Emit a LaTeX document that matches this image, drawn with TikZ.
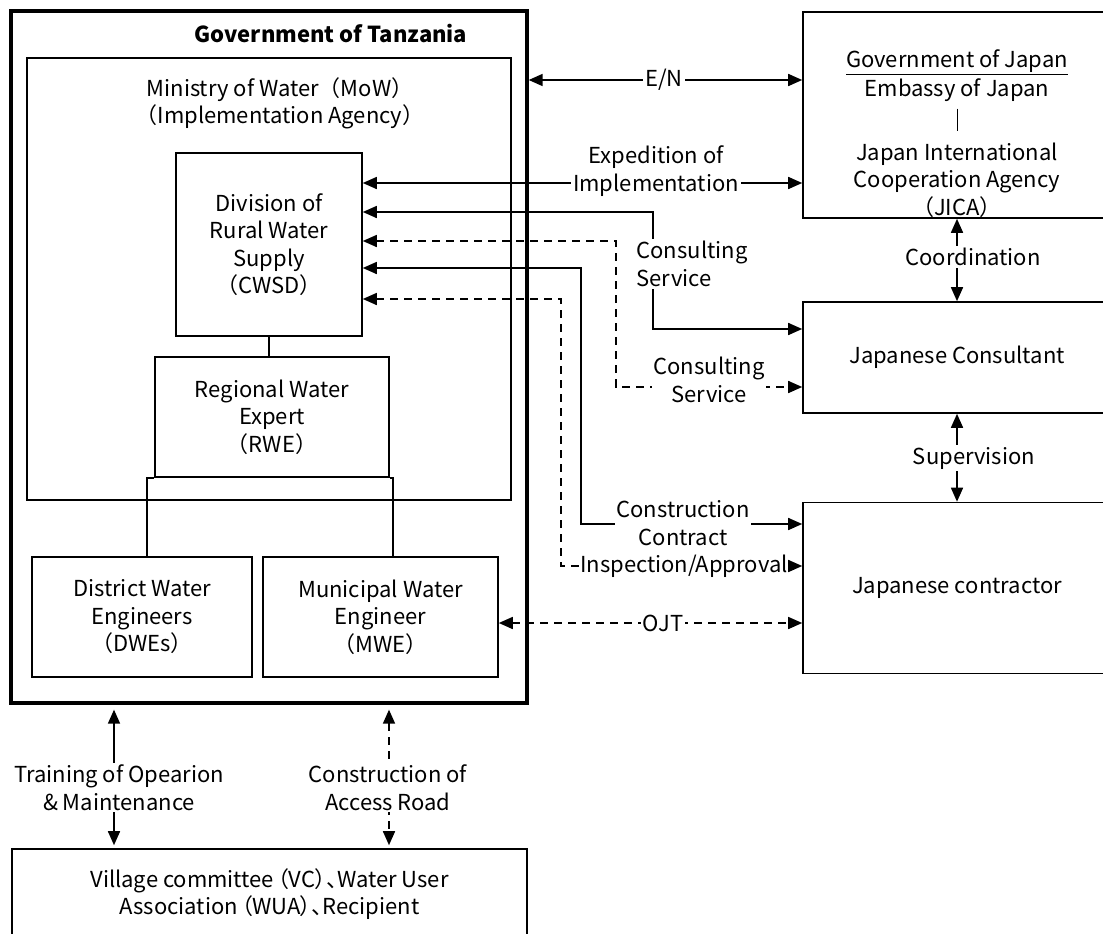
\documentclass[tikz,border=0pt]{standalone}
\usepackage{fontspec}
\setmainfont{Noto Sans CJK JP}
\newfontfamily\paltfont{Noto Sans CJK JP}[RawFeature=+palt]
\usetikzlibrary{arrows.meta}

\begin{document}
\begin{tikzpicture}[x=1pt,y=-1pt,>={Triangle[length=14pt,width=12pt]},line width=1.6pt,
  font=\fontsize{22pt}{27.5pt}\selectfont,
  box/.style={draw,fill=white,align=center,inner sep=0pt},
  lbl/.style={fill=white,align=center,inner sep=2pt},
  dsh/.style={dash pattern=on 8pt off 6pt}]
\useasboundingbox (0,0) rectangle (1103,934);
\node[box,line width=3.3pt,minimum width=516pt,minimum height=692pt] (tz) at (269,357) {};
\node (tzt) at (331,34) {\bfseries Government of Tanzania};
\node[box,minimum width=484pt,minimum height=442pt] (mow) at (269,279) {};
\node[align=center] (mowt) at (280,103.5) {Ministry of Water（MoW）\\（Implementation Agency）};
\node[box,minimum width=186pt,minimum height=183pt] (cwsd) at (269,244.5) {Division of\\Rural Water\\Supply\\（CWSD）};
\node[box,minimum width=234pt,minimum height=120pt] (rwe) at (272,417) {Regional Water\\Expert\\（RWE）};
\node[box,minimum width=220pt,minimum height=120pt] (dwe) at (142,617) {District Water\\Engineers\\（DWEs）};
\node[box,minimum width=235pt,minimum height=120pt] (mwe) at (380.5,617) {Municipal Water\\Engineer\\（MWE）};
\node[box,minimum width=515pt,minimum height=90pt,font=\fontsize{22pt}{27.5pt}\paltfont] (vc) at (269.5,894) {Village committee\,（VC）、Water User\\Association\,（WUA）、Recipient};
\node[box,minimum width=308pt,minimum height=206pt] (jpn) at (957,115) {};
\node (gojp) at (957,62) {\underline{Government of Japan}};
\node (emb) at (957,90) {Embassy of Japan};
\node[align=center] (jica) at (957,180) {Japan International\\Cooperation Agency\\（JICA）};
\node[box,minimum width=308pt,minimum height=111pt] (cons) at (957,357.5) {Japanese Consultant};
\node[box,minimum width=308pt,minimum height=171pt] (ctr) at (957,588) {Japanese contractor};
\coordinate (en) at (664,80);
\coordinate (c1) at (656,183);
\coordinate (c2a) at (653,212);
\coordinate (c2b) at (653,329);
\coordinate (c3a) at (616,241);
\coordinate (c3b) at (616,387);
\coordinate (c4a) at (581,268);
\coordinate (c4b) at (581,524);
\coordinate (c5a) at (561,299);
\coordinate (c5b) at (561,566);
\coordinate (oj) at (663,623);
\coordinate (tr) at (114,787);
\coordinate (ac) at (389,787);
\draw (cwsd.south) -- (cwsd.south |- rwe.north);
\draw ([xshift=5pt]dwe.north) |- (rwe.south west);
\draw ([xshift=12.5pt]mwe.north) |- (rwe.south east);
\draw[line width=1pt,shorten <=3pt,shorten >=8pt] (emb) -- (jica);
\draw[<->] (tz.east |- en) -- (jpn.west |- en);
\draw[<->] (cwsd.east |- c1) -- (jpn.west |- c1);
\draw[<->] (cwsd.east |- c2a) -- (c2a) -- (c2b) -- (cons.west |- c2b);
\draw[<->,dsh] (cwsd.east |- c3a) -- (c3a) -- (c3b) -- (cons.west |- c3b);
\draw[<->] (cwsd.east |- c4a) -- (c4a) -- (c4b) -- (ctr.west |- c4b);
\draw[<->,dsh] (cwsd.east |- c5a) -- (c5a) -- (c5b) -- (ctr.west |- c5b);
\draw[<->,dsh] (mwe.east |- oj) -- (ctr.west |- oj);
\draw[<->] (jpn) -- (cons);
\draw[<->] (cons) -- (ctr);
\draw[<->,shorten <=5pt,shorten >=3pt] (tz.south -| tr) -- (vc.north -| tr);
\draw[<->,dsh,shorten <=5pt,shorten >=3pt] (tz.south -| ac) -- (vc.north -| ac);
\node[lbl] (enl) at (en) {E/N};
\node[lbl] (expl) at (656,171) {Expedition of\\Implementation};
\node[lbl,align=left] (cs1) at (692,264) {Consulting\\Service};
\node[lbl] (cs2) at (709,380) {Consulting\\Service};
\node[lbl] (cc) at (683,523) {Construction\\Contract};
\node[lbl,inner xsep=0pt] (ia) at (684,566) {Inspection/Approval};
\node[lbl] (ojl) at (oj) {OJT};
\node[lbl] (crd) at (973,257) {Coordination};
\node[lbl] (sup) at (974,458) {Supervision};
\node[lbl] (trl) at (119,787.5) {Training of Opearion\\\& Maintenance};
\node[lbl] (acl) at (388,787.5) {Construction of\\Access Road};
\end{tikzpicture}
\end{document}
